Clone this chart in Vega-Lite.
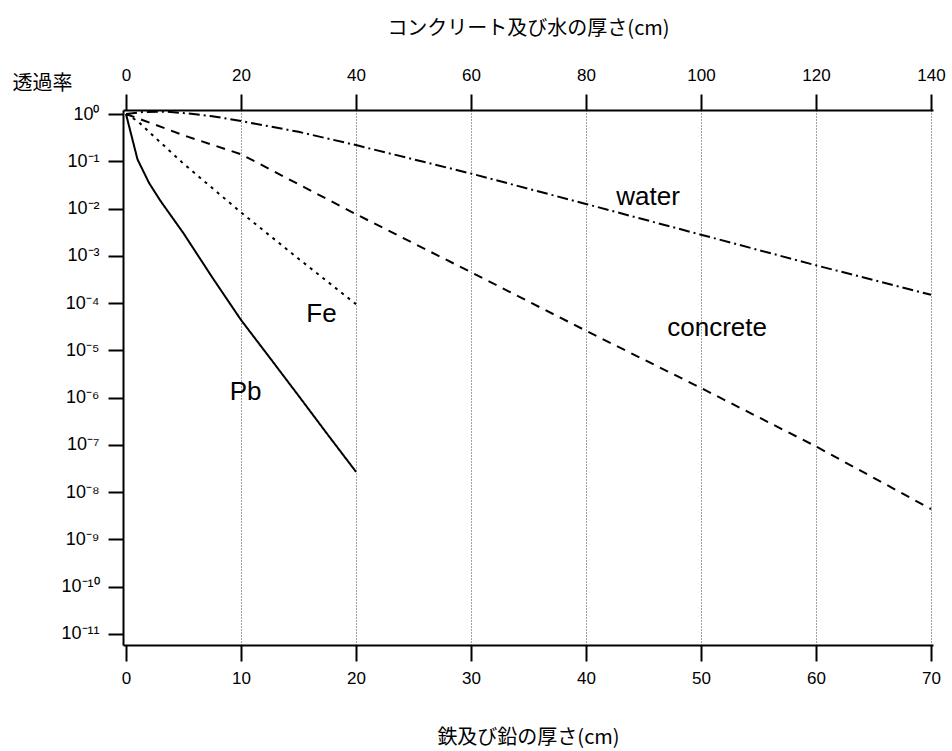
{
  "$schema": "https://vega.github.io/schema/vega-lite/v6.json",
  "autosize": {"type": "none"},
  "padding": {"left": 123, "top": 110, "right": 19, "bottom": 106},
  "width": 810,
  "height": 535,
  "background": "white",
  "config": {
    "view": {"stroke": null},
    "axis": {
      "domainColor": "black",
      "domainWidth": 2,
      "tickColor": "black",
      "tickWidth": 2,
      "labelColor": "black",
      "labelFont": "Liberation Sans",
      "labelFontSize": 17,
      "titleColor": "black",
      "titleFont": "Noto Sans CJK JP",
      "titleFontWeight": "normal",
      "titleFontSize": 20
    }
  },
  "datasets": {
    "thick": [
      {"material": "concrete", "t": 0, "transmission": 1},
      {"material": "concrete", "t": 5, "transmission": 0.6},
      {"material": "concrete", "t": 10, "transmission": 0.355},
      {"material": "concrete", "t": 20, "transmission": 0.141},
      {"material": "concrete", "t": 40, "transmission": 0.0076},
      {"material": "concrete", "t": 60, "transmission": 0.00045},
      {"material": "concrete", "t": 80, "transmission": 0.000026},
      {"material": "concrete", "t": 100, "transmission": 0.0000016},
      {"material": "concrete", "t": 120, "transmission": 0.000000093},
      {"material": "concrete", "t": 140, "transmission": 0.0000000044},
      {"material": "water", "t": 0, "transmission": 1},
      {"material": "water", "t": 3, "transmission": 1.1},
      {"material": "water", "t": 7, "transmission": 1.12},
      {"material": "water", "t": 10, "transmission": 1.05},
      {"material": "water", "t": 15, "transmission": 0.9},
      {"material": "water", "t": 20, "transmission": 0.71},
      {"material": "water", "t": 30, "transmission": 0.42},
      {"material": "water", "t": 40, "transmission": 0.22},
      {"material": "water", "t": 60, "transmission": 0.055},
      {"material": "water", "t": 80, "transmission": 0.0125},
      {"material": "water", "t": 100, "transmission": 0.0028},
      {"material": "water", "t": 120, "transmission": 0.00063},
      {"material": "water", "t": 140, "transmission": 0.00015}
    ],
    "thin": [
      {"material": "Fe", "t": 0, "transmission": 1},
      {"material": "Fe", "t": 1, "transmission": 0.71},
      {"material": "Fe", "t": 2, "transmission": 0.42},
      {"material": "Fe", "t": 5, "transmission": 0.089},
      {"material": "Fe", "t": 10, "transmission": 0.0083},
      {"material": "Fe", "t": 15, "transmission": 0.00087},
      {"material": "Fe", "t": 20, "transmission": 0.000095},
      {"material": "Pb", "t": 0, "transmission": 1},
      {"material": "Pb", "t": 1, "transmission": 0.11},
      {"material": "Pb", "t": 2, "transmission": 0.035},
      {"material": "Pb", "t": 3, "transmission": 0.0145},
      {"material": "Pb", "t": 5, "transmission": 0.003},
      {"material": "Pb", "t": 7.5, "transmission": 0.00035},
      {"material": "Pb", "t": 10, "transmission": 0.000044},
      {"material": "Pb", "t": 12.5, "transmission": 0.000007},
      {"material": "Pb", "t": 15, "transmission": 0.0000011},
      {"material": "Pb", "t": 17.5, "transmission": 0.00000017},
      {"material": "Pb", "t": 20, "transmission": 0.000000027}
    ],
    "labels": [
      {"label": "water", "t": 45.4, "transmission": 0.0175},
      {"label": "concrete", "t": 51.4, "transmission": 0.00003},
      {"label": "Fe", "t": 17.0, "transmission": 0.000059},
      {"label": "Pb", "t": 10.4, "transmission": 0.0000013}
    ]
  },
  "layer": [
    {
      "data": {"name": "thick"},
      "mark": {"type": "line", "color": "black", "strokeWidth": 2},
      "encoding": {
        "x": {
          "field": "t", "type": "quantitative",
          "scale": {"domain": [-0.52, 140.35], "nice": false, "zero": false},
          "axis": {
            "orient": "top",
            "values": [0, 20, 40, 60, 80, 100, 120, 140],
            "tickSize": 16,
            "labelPadding": 10,
            "labelFlush": false,
            "grid": false,
            "title": "コンクリート及び水の厚さ(cm)",
            "titleX": 405,
            "titleY": -82,
            "titleBaseline": "middle"
          }
        },
        "y": {
          "field": "transmission", "type": "quantitative",
          "scale": {"type": "log", "domain": [5.85e-12, 1.216], "nice": false},
          "axis": {
            "orient": "left",
            "values": [1, 0.1, 0.01, 0.001, 0.0001, 0.00001, 0.000001, 0.0000001, 0.00000001, 0.000000001, 0.0000000001, 0.00000000001],
            "labelExpr": "'10' + ['⁰','⁻¹','⁻²','⁻³','⁻⁴','⁻⁵','⁻⁶','⁻⁷','⁻⁸','⁻⁹','⁻¹⁰','⁻¹¹'][-round(log(datum.value)/LN10)]",
            "labelFontSize": 18,
            "tickSize": 15,
            "labelPadding": 9,
            "grid": false,
            "title": "透過率",
            "titleAngle": 0,
            "titleAlign": "left",
            "titleBaseline": "middle",
            "titleX": -111,
            "titleY": -27,
            "titleFontSize": 20
          }
        },
        "strokeDash": {
          "field": "material", "type": "nominal",
          "scale": {"domain": ["concrete", "water"], "range": [[9, 7], [11, 4, 2, 4]]},
          "legend": null
        }
      }
    },
    {
      "data": {"name": "thin"},
      "mark": {"type": "line", "color": "black", "strokeWidth": 2},
      "encoding": {
        "x": {
          "field": "t", "type": "quantitative",
          "scale": {"domain": [-0.26, 70.17], "nice": false, "zero": false},
          "axis": {
            "orient": "bottom",
            "values": [0, 10, 20, 30, 40, 50, 60, 70],
            "tickSize": 16,
            "labelPadding": 9,
            "labelFlush": false,
            "grid": true,
            "gridColor": "#444",
            "gridWidth": 1,
            "gridDash": [1, 2],
            "gridOpacity": {"condition": {"test": "datum.value == 0", "value": 0}, "value": 1},
            "title": "鉄及び鉛の厚さ(cm)",
            "titleX": 405,
            "titleY": 92,
            "titleBaseline": "middle"
          }
        },
        "y": {"field": "transmission", "type": "quantitative"},
        "strokeDash": {
          "field": "material", "type": "nominal",
          "scale": {"domain": ["Fe", "Pb"], "range": [[3, 5], [1, 0]]},
          "legend": null
        }
      }
    },
    {
      "data": {"name": "labels"},
      "mark": {"type": "text", "font": "Liberation Sans", "fontSize": 26, "color": "black", "align": "center", "baseline": "middle"},
      "encoding": {
        "x": {
          "field": "t", "type": "quantitative",
          "scale": {"domain": [-0.26, 70.17], "nice": false, "zero": false},
          "axis": null
        },
        "y": {"field": "transmission", "type": "quantitative"},
        "text": {"field": "label"}
      }
    }
  ],
  "resolve": {"scale": {"x": "independent", "strokeDash": "independent"}}
}
